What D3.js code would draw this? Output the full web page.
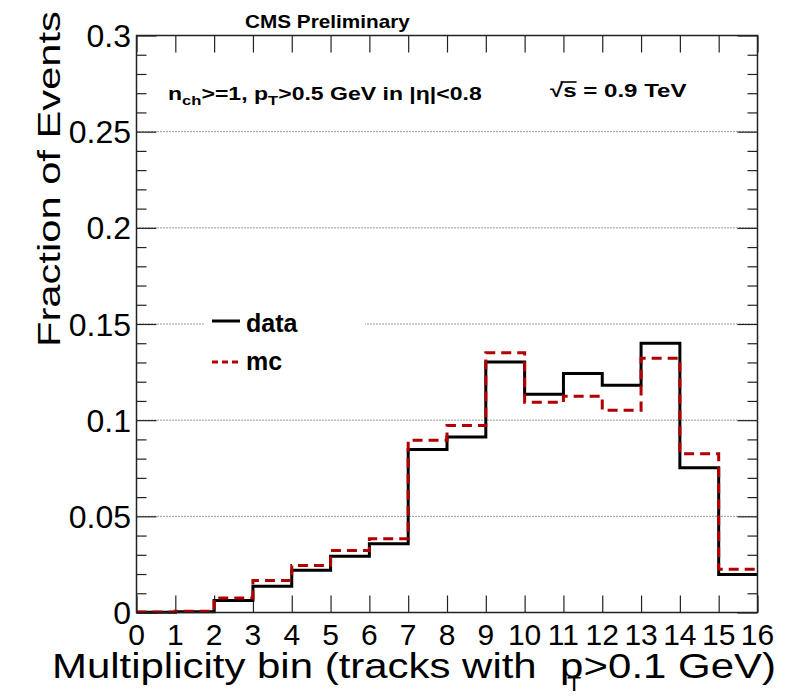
<!DOCTYPE html>
<html>
<head>
<meta charset="utf-8">
<script src="https://cdn.jsdelivr.net/npm/d3@7"></script>
<style>
  html, body { margin: 0; padding: 0; background: #fff; }
  svg { display: block; font-family: "Liberation Sans", Arial, Helvetica, sans-serif; }
  .pre { white-space: pre; }
</style>
</head>
<body>
<svg id="chart" width="792" height="696"></svg>
<script>
// ---- data ----
const bins = d3.range(0, 17); // bin edges 0..16
const dataValues = [0.0001, 0.0004, 0.0062, 0.0137, 0.0220, 0.0293, 0.0357, 0.0848, 0.0913, 0.1303, 0.1135, 0.1243, 0.1182, 0.1400, 0.0753, 0.0197];
const mcValues   = [0.0002, 0.0007, 0.0076, 0.0166, 0.0244, 0.0322, 0.0383, 0.0896, 0.0972, 0.1350, 0.1093, 0.1125, 0.1052, 0.1322, 0.0825, 0.0225];
const yTickValues = [0, 0.05, 0.1, 0.15, 0.2, 0.25, 0.3];
const yTickLabels = ["0", "0.05", "0.1", "0.15", "0.2", "0.25", "0.3"];
const xTickLabels = bins.map(String);
const gridValues = [0.05, 0.1, 0.15, 0.2, 0.25];
const legendItems = ["data", "mc"];

const svg = d3.select("#chart");
const L = 136.5, R = 757.5, T = 35.5, B = 612.5;
const x = d3.scaleLinear().domain([0, 16]).range([L, R]);
const y = d3.scaleLinear().domain([0, 0.3]).range([B, T]);

const axisColor = "#222";

// gridlines
svg.append("g").selectAll("line").data(gridValues).join("line")
  .attr("x1", L).attr("x2", R)
  .attr("y1", d => y(d)).attr("y2", d => y(d))
  .attr("stroke", "#333").attr("stroke-width", 1)
  .attr("stroke-dasharray", "1,2");

// legend box (white, hides gridline)
svg.append("rect").attr("x", 205).attr("y", 300).attr("width", 160).attr("height", 85).attr("fill", "#fff");

// axes ticks
function styleAxis(g) {
  g.select(".domain").remove();
  g.selectAll(".tick line").attr("stroke", axisColor).attr("stroke-width", 1.2);
}
svg.append("g").attr("transform", `translate(${L},0)`)
  .call(d3.axisRight(y).tickValues(yTickValues).tickSize(20).tickFormat(""))
  .call(styleAxis);
const minorY = d3.range(0, 31).map(i => i / 100).filter(v => Math.round(v * 100) % 5 !== 0);
svg.append("g").attr("transform", `translate(${L},0)`)
  .call(d3.axisRight(y).tickValues(minorY).tickSize(10).tickFormat(""))
  .call(styleAxis);
svg.append("g").attr("transform", `translate(${R},0)`)
  .call(d3.axisLeft(y).tickValues(yTickValues).tickSize(20).tickFormat(""))
  .call(styleAxis);
svg.append("g").attr("transform", `translate(${R},0)`)
  .call(d3.axisLeft(y).tickValues(minorY).tickSize(10).tickFormat(""))
  .call(styleAxis);
svg.append("g").attr("transform", `translate(0,${B})`)
  .call(d3.axisTop(x).tickValues(bins).tickSize(17).tickFormat(""))
  .call(styleAxis);
svg.append("g").attr("transform", `translate(0,${T})`)
  .call(d3.axisBottom(x).tickValues(bins).tickSize(17).tickFormat(""))
  .call(styleAxis);

// y tick labels
svg.append("g").selectAll("text").data(yTickValues).join("text")
  .attr("x", 131).attr("y", d => y(d)).attr("dy", "0.36em")
  .attr("text-anchor", "end").attr("font-size", 32).attr("fill", "#000")
  .text((d, i) => yTickLabels[i]);

// x tick labels
svg.append("g").selectAll("text").data(bins).join("text")
  .attr("x", d => x(d)).attr("y", 645)
  .attr("text-anchor", "middle").attr("font-size", 30).attr("fill", "#000")
  .text((d, i) => xTickLabels[i]);

// histograms
const stepLine = d3.line().x(d => x(d[0])).y(d => y(d[1])).curve(d3.curveStepAfter);
function histPoints(vals) {
  const pts = vals.map((v, i) => [i, v]);
  pts.push([vals.length, vals[vals.length - 1]]);
  return pts;
}
svg.append("path").datum(histPoints(dataValues))
  .attr("d", stepLine).attr("fill", "none")
  .attr("stroke", "#000").attr("stroke-width", 3);
svg.append("path").datum(histPoints(mcValues))
  .attr("d", stepLine).attr("fill", "none")
  .attr("stroke", "#b00000").attr("stroke-width", 3)
  .attr("stroke-dasharray", "10,6");

// frame
svg.append("rect").attr("x", L).attr("y", T).attr("width", R - L).attr("height", B - T)
  .attr("fill", "none").attr("stroke", axisColor).attr("stroke-width", 1.5);

// legend
const legendY = [321, 362];
const legendBase = [332, 370];
legendItems.forEach((name, i) => {
  svg.append("line").attr("x1", 212).attr("x2", 240).attr("y1", legendY[i]).attr("y2", legendY[i])
    .attr("stroke", i === 0 ? "#000" : "#b00000").attr("stroke-width", 3)
    .attr("stroke-dasharray", i === 0 ? null : "6,4");
  svg.append("text").attr("x", 246).attr("y", legendBase[i])
    .attr("font-size", 25).attr("font-weight", "bold").attr("fill", "#000").text(name);
});

// helper: stretch text horizontally to a target width
function fit(sel, tx, ty, width, rot) {
  const bb = sel.node().getBBox();
  const s = width / bb.width;
  sel.attr("transform", `translate(${tx},${ty})${rot ? " rotate(" + rot + ")" : ""} scale(${s},1) translate(${-bb.x},0)`);
}

// CMS Preliminary
const cms = svg.append("text").attr("x", 0).attr("y", 0)
  .attr("font-size", 18).attr("font-weight", "bold").text("CMS Preliminary");
fit(cms, 245, 28, 165);

// annotation
const ann = svg.append("text").attr("x", 0).attr("y", 0).attr("font-size", 18).attr("font-weight", "bold");
ann.append("tspan").text("n");
ann.append("tspan").attr("font-size", 13).attr("dy", 5).text("ch");
ann.append("tspan").attr("dy", -5).text(">=1, p");
ann.append("tspan").attr("font-size", 13).attr("dy", 5).text("T");
ann.append("tspan").attr("dy", -5).text(">0.5 GeV in |η|<0.8");
fit(ann, 168, 100, 314);

// sqrt(s)
const rs = svg.append("text").attr("x", 0).attr("y", 0).attr("font-size", 19).attr("font-weight", "bold").text("√s = 0.9 TeV");
const ext = rs.node().getExtentOfChar(1);
fit(rs, 550, 97, 137);
{
  const bb = rs.node().getBBox();
  const s = 137 / bb.width;
  const x1 = 550 + (ext.x - bb.x - 2) * s;
  const x2 = 550 + (ext.x + ext.width - bb.x) * s;
  svg.append("line").attr("x1", x1).attr("x2", x2).attr("y1", 97 - 15).attr("y2", 97 - 15)
    .attr("stroke", "#000").attr("stroke-width", 1.6);
}

// x title
const xt = svg.append("text").attr("class", "pre").attr("x", 0).attr("y", 0).attr("font-size", 36).attr("fill", "#000");
xt.append("tspan").text("Multiplicity bin (tracks with  p");
xt.append("tspan").attr("font-size", 20).attr("dy", 13).attr("dx", -14).text("T");
xt.append("tspan").attr("dy", -13).attr("dx", 2).text(">0.1 GeV)");
fit(xt, 52, 678, 724);

// y title
const yt = svg.append("text").attr("x", 0).attr("y", 0).attr("font-size", 32).attr("fill", "#000").text("Fraction of Events");
fit(yt, 60, 347, 336, -90);
</script>
</body>
</html>
